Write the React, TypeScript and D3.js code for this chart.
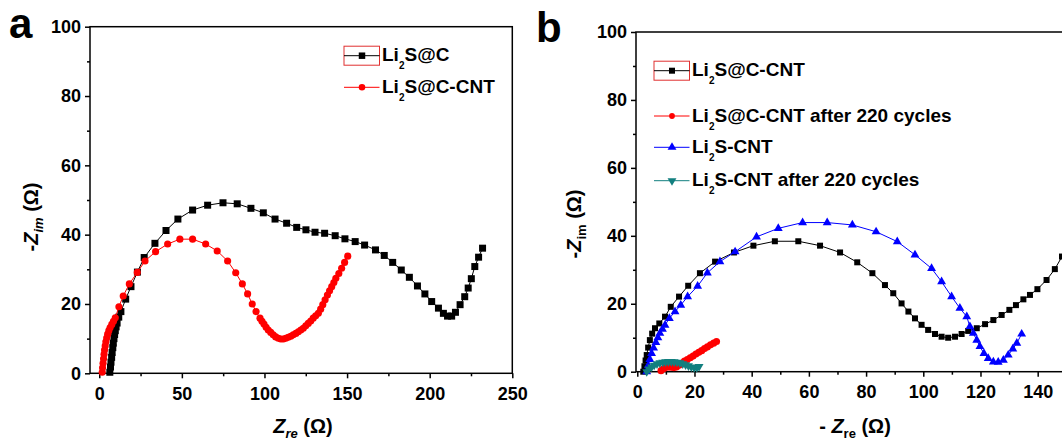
import * as d3 from 'd3';
import { useEffect, useRef } from 'react';

// ---- panel a : Li2S@C vs Li2S@C-CNT ----
const aLi2SC_x = [6.4, 6.8, 7.1, 7.5, 7.8, 8.2, 8.5, 8.9, 9.3, 9.7, 10.2, 10.8, 11.8, 13.1, 16.0, 19.2, 23.1, 27.2, 33.7, 40.4, 47.6, 56.5, 65.6, 74.9, 83.5, 91.8, 99.3, 106.4, 113.4, 119.5, 125.1, 130.6, 136.4, 142.8, 148.7, 154.9, 160.6, 167.2, 172.5, 177.6, 182.8, 187.7, 192.6, 197.1, 201.2, 205.3, 208.3, 210.8, 213.3, 215.6, 218.4, 221.2, 223.3, 225.2, 227.3, 229.6, 232.0];
const aLi2SC_y = [0.3, 1.8, 3.2, 4.6, 6.0, 7.4, 8.7, 10.0, 11.2, 12.3, 13.4, 14.5, 16.2, 17.8, 21.4, 25.0, 29.2, 33.4, 37.5, 41.2, 44.5, 47.1, 48.5, 49.2, 48.9, 47.6, 46.3, 44.5, 43.3, 42.1, 41.4, 40.7, 40.4, 39.7, 38.8, 38.0, 37.0, 35.6, 34.0, 32.0, 29.8, 27.7, 25.2, 22.9, 20.7, 18.8, 17.3, 16.5, 16.5, 17.6, 19.8, 22.1, 24.6, 27.3, 30.8, 33.5, 36.1];

const aLi2SCCNT_x = [1.8, 2.0, 2.3, 2.6, 2.9, 3.2, 3.6, 4.0, 4.5, 5.1, 5.8, 6.6, 7.6, 8.6, 9.7, 11.9, 14.5, 18.2, 23.0, 27.7, 34.1, 41.4, 48.8, 56.5, 64.4, 71.4, 77.7, 82.6, 86.6, 89.8, 92.6, 94.9, 97.3, 98.5, 99.7, 101.0, 102.3, 103.8, 105.3, 106.8, 108.4, 109.9, 111.4, 112.9, 114.4, 115.9, 117.4, 119.0, 120.5, 122.0, 123.5, 125.0, 126.5, 128.0, 129.5, 131.0, 132.6, 134.0, 135.3, 136.7, 138.1, 139.4, 140.7, 142.0, 143.2, 145.0, 146.7, 148.5, 150.4];
const aLi2SCCNT_y = [0.3, 1.6, 2.9, 4.2, 5.5, 6.7, 7.9, 9.1, 10.2, 11.3, 12.3, 13.2, 14.1, 15.0, 16.0, 19.2, 22.3, 25.8, 29.1, 32.4, 35.1, 37.3, 38.7, 38.7, 37.3, 35.3, 32.4, 29.0, 25.8, 22.9, 20.0, 17.8, 15.9, 15.0, 14.2, 13.3, 12.5, 11.8, 11.1, 10.5, 10.1, 9.9, 9.9, 10.1, 10.4, 10.7, 11.1, 11.5, 12.0, 12.5, 13.0, 13.7, 14.4, 15.1, 15.9, 16.6, 17.3, 18.5, 19.8, 21.2, 22.6, 23.8, 25.0, 26.2, 27.4, 28.8, 30.3, 32.0, 33.8];

// ---- panel b ----
const bLi2SCCNT_x = [2.1, 2.5, 2.9, 3.3, 3.8, 4.4, 5.2, 6.2, 7.7, 9.7, 11.7, 14.6, 17.8, 21.9, 27.2, 33.8, 40.6, 48.1, 56.3, 63.9, 70.9, 76.9, 82.2, 86.6, 89.5, 92.4, 94.8, 97.1, 99.4, 101.7, 104.1, 106.4, 108.7, 111.1, 113.4, 115.7, 118.7, 121.6, 124.5, 127.4, 130.1, 132.4, 135.0, 137.3, 139.9, 143.1, 146.0, 148.5, 150.5];
const bLi2SCCNT_y = [0.0, 1.6, 3.3, 4.9, 7.1, 9.3, 11.2, 12.8, 14.2, 16.2, 19.1, 22.1, 25.3, 29.0, 32.4, 35.1, 37.1, 38.4, 38.4, 37.1, 35.1, 32.2, 29.0, 25.5, 23.1, 20.1, 17.7, 15.7, 13.8, 12.3, 11.1, 10.3, 10.0, 10.3, 11.1, 12.0, 12.8, 14.0, 15.2, 16.7, 18.2, 19.6, 21.3, 22.6, 24.3, 27.0, 30.2, 33.9, 37.0];

const bLi2SCCNTAfter_x = [8.3, 9.2, 10.1, 11.0, 11.9, 12.8, 13.7, 14.6, 15.5, 16.5, 17.5, 18.5, 19.5, 20.5, 21.5, 22.5, 23.5, 24.5, 25.6, 26.7, 27.7];
const bLi2SCCNTAfter_y = [0.3, 0.9, 1.3, 1.4, 1.3, 1.2, 1.4, 1.9, 2.5, 3.1, 3.6, 4.1, 4.6, 5.2, 5.7, 6.2, 6.8, 7.3, 7.9, 8.4, 8.9];

const bLi2SCNT_x = [3.3, 3.8, 4.4, 5.0, 5.7, 6.5, 7.2, 7.9, 8.8, 9.7, 11.2, 13.2, 15.2, 17.6, 21.1, 24.5, 28.9, 34.2, 41.7, 49.3, 57.8, 66.4, 75.2, 83.5, 90.9, 97.1, 102.9, 106.4, 109.9, 112.8, 115.2, 116.3, 117.5, 118.7, 119.8, 121.2, 122.7, 124.5, 126.2, 128.0, 129.7, 131.3, 132.7, 134.4];
const bLi2SCNT_y = [0.0, 1.8, 3.6, 5.4, 7.0, 8.6, 10.0, 11.3, 12.5, 13.7, 15.7, 17.7, 19.6, 22.1, 25.2, 29.1, 32.4, 35.3, 39.7, 42.2, 43.9, 43.9, 43.2, 41.2, 38.3, 34.4, 30.4, 26.5, 22.1, 18.7, 16.2, 13.3, 11.3, 9.3, 7.4, 5.4, 3.9, 2.9, 2.8, 3.4, 4.9, 6.7, 8.4, 11.1];

const bLi2SCNTAfter_x = [3.3, 4.1, 5.0, 5.9, 6.9, 7.9, 8.9, 9.9, 10.9, 11.9, 12.9, 13.9, 14.9, 15.9, 16.9, 17.9, 18.9, 19.9, 20.8, 21.6];
const bLi2SCNTAfter_y = [0.0, 0.8, 1.4, 1.9, 2.3, 2.6, 2.8, 2.9, 3.0, 3.0, 2.9, 2.8, 2.6, 2.3, 2.0, 1.7, 1.4, 1.2, 1.2, 1.5];

// ticks
const aXTicks = [0, 50, 100, 150, 200, 250];
const aXMinor = [25, 75, 125, 175, 225];
const bXTicks = [0, 20, 40, 60, 80, 100, 120, 140];
const bXMinor = [10, 30, 50, 70, 90, 110, 130, 150];
const yTicks = [0, 20, 40, 60, 80, 100];
const yMinor = [10, 30, 50, 70, 90];

const FONT = '"Liberation Sans", Arial, Helvetica, sans-serif';
const TEAL = '#127f7f';

function drawAxes(svg, x, y, xMajor, xMinor) {
    const [xl, xr] = x.range();
    const [yb, yt] = y.range();

    svg.append('rect')
        .attr('x', xl).attr('y', yt)
        .attr('width', xr - xl).attr('height', yb - yt)
        .attr('fill', 'none').attr('stroke', '#000').attr('stroke-width', 1.5);

    const style = (g) => {
        g.select('.domain').remove();
        g.selectAll('line').attr('stroke', '#000').attr('stroke-width', 1.5);
        g.selectAll('text')
            .attr('font-family', FONT).attr('font-size', 18)
            .attr('font-weight', 'bold').attr('fill', '#000');
    };

    svg.append('g').attr('transform', `translate(0,${yb})`)
        .call(d3.axisBottom(x).tickValues(xMajor).tickSize(5).tickPadding(9).tickFormat(d3.format('d')))
        .call(style);
    svg.append('g').attr('transform', `translate(0,${yb})`)
        .call(d3.axisBottom(x).tickValues(xMinor).tickSize(3).tickFormat(() => ''))
        .call(style);
    svg.append('g').attr('transform', `translate(${xl},0)`)
        .call(d3.axisLeft(y).tickValues(yTicks).tickSize(5).tickPadding(4).tickFormat(d3.format('d')))
        .call(style);
    svg.append('g').attr('transform', `translate(${xl},0)`)
        .call(d3.axisLeft(y).tickValues(yMinor).tickSize(3).tickFormat(() => ''))
        .call(style);
}

function drawSeries(svg, x, y, xs, ys, color, symbol, size, rotate = 0) {
    const pts = xs.map((v, i) => [v, ys[i]]);
    const line = d3.line().x(d => x(d[0])).y(d => y(d[1]));
    svg.append('path').attr('d', line(pts))
        .attr('fill', 'none').attr('stroke', color).attr('stroke-width', 1);
    svg.append('g').selectAll('path')
        .data(pts)
        .enter()
        .append('path')
        .attr('d', d3.symbol().type(symbol).size(size)())
        .attr('transform', d => `translate(${x(d[0])},${y(d[1])}) rotate(${rotate})`)
        .attr('fill', color);
}

// label with subscript "2" : Li2 + rest
function legendText(svg, tx, ty, rest) {
    const t = svg.append('text').attr('x', tx).attr('y', ty)
        .attr('font-family', FONT).attr('font-size', 19).attr('font-weight', 'bold');
    t.append('tspan').text('Li');
    t.append('tspan').attr('font-size', 10).attr('dy', 8).text('2');
    t.append('tspan').attr('dy', -8).text(rest);
}

function legendRow(svg, x0, yc, color, symbol, size, rest, boxed, rotate = 0) {
    if (boxed) {
        svg.append('rect').attr('x', x0).attr('y', yc - 9.5).attr('width', 35.5).attr('height', 19)
            .attr('fill', 'none').attr('stroke', '#e03030').attr('stroke-width', 1);
    }
    svg.append('line').attr('x1', x0).attr('x2', x0 + 35.5).attr('y1', yc).attr('y2', yc)
        .attr('stroke', color).attr('stroke-width', 1);
    svg.append('path').attr('d', d3.symbol().type(symbol).size(size)())
        .attr('transform', `translate(${x0 + 18},${yc}) rotate(${rotate})`).attr('fill', color);
    legendText(svg, x0 + 38, yc + 5.5, rest);
}

function axisTitle(svg, tx, ty, rotate, prefix, sub, italicSub) {
    const t = svg.append('text')
        .attr('transform', `translate(${tx},${ty}) rotate(${rotate})`)
        .attr('text-anchor', 'middle')
        .attr('font-family', FONT).attr('font-size', 20).attr('font-weight', 'bold');
    t.append('tspan').text(prefix);
    t.append('tspan').attr('font-style', 'italic').text('Z');
    t.append('tspan').attr('font-size', 13).attr('dy', 5)
        .attr('font-style', italicSub ? 'italic' : 'normal').text(sub);
    t.append('tspan').attr('dy', -5).text(' (Ω)');
}

export default function App() {
    const ref = useRef(null);

    useEffect(() => {
        const svg = d3.select(ref.current);
        svg.selectAll('*').remove();

        // ---------- panel a ----------
        const xA = d3.scaleLinear().domain([-5.6, 250]).range([90, 512.3]);
        const yA = d3.scaleLinear().domain([0, 100]).range([373.3, 26.7]);
        drawAxes(svg, xA, yA, aXTicks, aXMinor);
        drawSeries(svg, xA, yA, aLi2SC_x, aLi2SC_y, '#000', d3.symbolSquare, 49);
        drawSeries(svg, xA, yA, aLi2SCCNT_x, aLi2SCCNT_y, '#ff0000', d3.symbolCircle, 40);

        legendRow(svg, 344, 55.7, '#000', d3.symbolSquare, 42, 'S@C', true);
        legendRow(svg, 344, 87.3, '#ff0000', d3.symbolCircle, 34, 'S@C-CNT', false);

        svg.append('text').attr('x', 9).attr('y', 38)
            .attr('font-family', FONT).attr('font-size', 42).attr('font-weight', 'bold').text('a');
        axisTitle(svg, 303, 433, 0, '', 're', true);
        axisTitle(svg, 38, 217, -90, '-', 'im', true);

        // ---------- panel b ----------
        const xB = d3.scaleLinear().domain([-0.45, 150]).range([636, 636 + 150.45 * 2.86]);
        const yB = d3.scaleLinear().domain([0, 100]).range([371.7, 32]);
        drawAxes(svg, xB, yB, bXTicks, bXMinor);
        drawSeries(svg, xB, yB, bLi2SCCNT_x, bLi2SCCNT_y, '#000', d3.symbolSquare, 36);
        drawSeries(svg, xB, yB, bLi2SCCNTAfter_x, bLi2SCCNTAfter_y, '#ff0000', d3.symbolCircle, 40);
        drawSeries(svg, xB, yB, bLi2SCNT_x, bLi2SCNT_y, '#0000ff', d3.symbolTriangle, 34);
        drawSeries(svg, xB, yB, bLi2SCNTAfter_x, bLi2SCNTAfter_y, TEAL, d3.symbolTriangle, 34, 180);

        legendRow(svg, 654, 70.7, '#000', d3.symbolSquare, 36, 'S@C-CNT', true);
        legendRow(svg, 654, 116, '#ff0000', d3.symbolCircle, 26, 'S@C-CNT after 220 cycles', false);
        legendRow(svg, 654, 147.3, '#0000ff', d3.symbolTriangle, 34, 'S-CNT', false);
        legendRow(svg, 654, 180.7, TEAL, d3.symbolTriangle, 34, 'S-CNT after 220 cycles', false, 180);

        svg.append('text').attr('x', 536).attr('y', 42)
            .attr('font-family', FONT).attr('font-size', 42).attr('font-weight', 'bold').text('b');
        axisTitle(svg, 855, 433, 0, '- ', 're', false);
        axisTitle(svg, 581, 224, -90, '-', 'im', false);
    }, []);

    return (
        <div style={{ position: 'absolute', left: 0, top: 0 }}>
            <svg ref={ref} width={1062} height={443} style={{ display: 'block', background: '#fff' }} />
        </div>
    );
}
